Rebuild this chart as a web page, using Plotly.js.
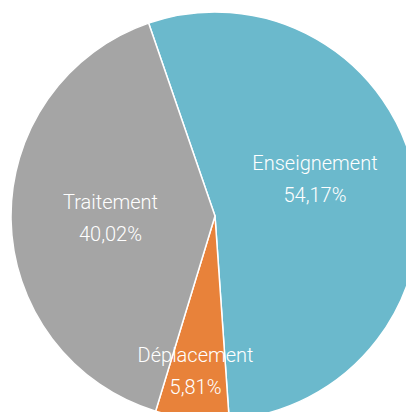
<!DOCTYPE html>
<html>
<head>
<meta charset="utf-8">
<script src="https://cdn.plot.ly/plotly-3.0.1.min.js"></script>
<style>
html,body{margin:0;padding:0;overflow:hidden;background:#fff;width:406px;height:412px;}
#chart{width:430px;height:430px;}
</style>
</head>
<body>
<div id="chart"></div>
<script>
const categories = ["Enseignement", "Déplacement", "Traitement"];
const values = [54.17, 5.81, 40.02];
const colors = ["#6bb9cc", "#e8823a", "#a5a5a5"];

const W = 430, H = 430;
const domain = { x: [11 / W, 419 / W], y: [10 / H, 418 / H] };
const span = s => '<span style="font-size:20px">' + s + '</span>';
const twoLines = span('%{label}') + '<br>' + span('%{percent:.2%}');
const textFont = { family: "Roboto, Liberation Sans, Arial, sans-serif", size: 25, color: "#ffffff", weight: 300 };

const slices = {
  type: "pie",
  labels: categories,
  values: values,
  sort: false,
  direction: "clockwise",
  rotation: -19,
  marker: { colors: colors, line: { color: "#ffffff", width: 1.5 } },
  textinfo: "none",
  hoverinfo: "none",
  domain: domain
};

const labelsLayer = {
  type: "pie",
  labels: categories,
  values: values,
  sort: false,
  direction: "clockwise",
  rotation: -19,
  marker: { colors: ["rgba(0,0,0,0)", "rgba(0,0,0,0)", "rgba(0,0,0,0)"], line: { width: 0 } },
  texttemplate: [twoLines + '<br> ', twoLines + '<br> ', twoLines],
  textposition: "inside",
  insidetextorientation: "horizontal",
  textfont: textFont,
  insidetextfont: textFont,
  hoverinfo: "none",
  domain: domain
};

Plotly.newPlot("chart", [slices, labelsLayer], {
  width: W,
  height: H,
  margin: { l: 0, r: 0, t: 0, b: 0, pad: 0 },
  showlegend: false,
  separators: ", ",
  paper_bgcolor: "#ffffff",
  uniformtext: { mode: "show", minsize: 25 }
}, { displayModeBar: false, staticPlot: true });
</script>
</body>
</html>
